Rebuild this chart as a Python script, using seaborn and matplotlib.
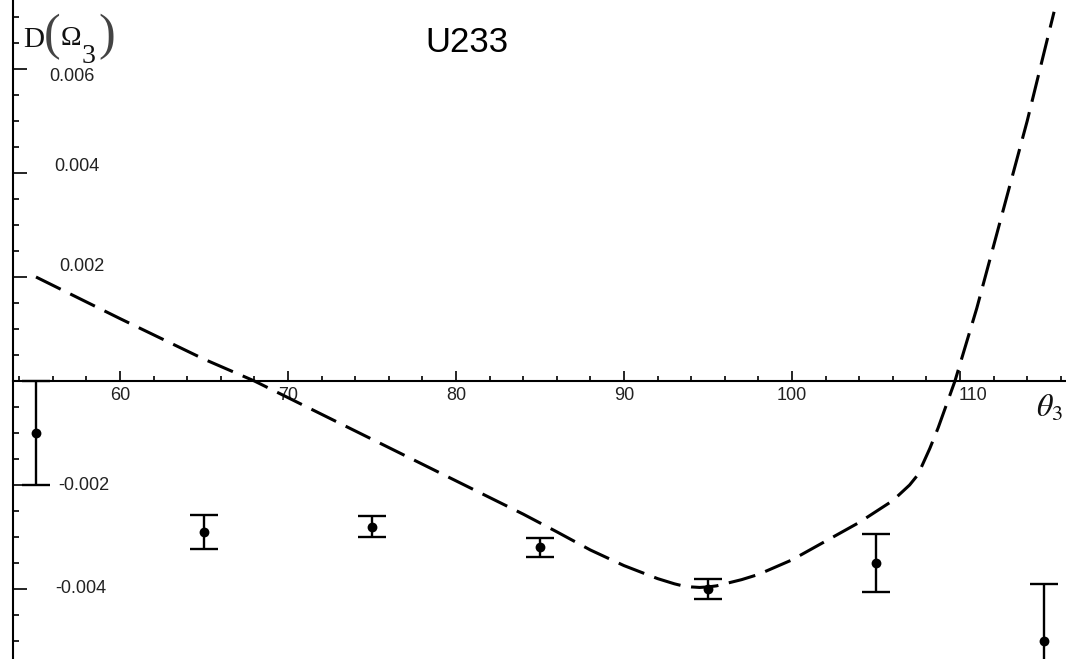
import matplotlib
matplotlib.use("Agg")
import matplotlib.pyplot as plt
from matplotlib.ticker import MultipleLocator, FixedLocator
from matplotlib.transforms import ScaledTranslation, blended_transform_factory
import seaborn as sns

# Measured D(Omega_3) for U233 with uncertainties
theta_obs = [55, 65, 75, 85, 95, 105, 115]
d_obs = [-0.0010, -0.0029, -0.0028, -0.0032, -0.0040, -0.0035, -0.0050]
d_err = [0.0010, 0.00033, 0.0002, 0.00018, 0.0002, 0.00055, 0.0011]

# Calculated curve
theta_calc = [55, 60, 65, 68, 72, 76, 80, 84, 86, 88, 90, 92, 93, 93.5, 94,
              94.5, 95, 95.5, 96, 97, 98, 100, 102, 104, 106, 107, 107.5,
              108.2, 108.7, 109.7, 111, 112, 113, 114, 115.6]
d_calc = [0.0020, 0.0012, 0.00042, -0.0000, -0.00064, -0.00128, -0.00192,
          -0.00256, -0.0029, -0.00325, -0.00355, -0.0038, -0.0039, -0.00394,
          -0.00396, -0.00397, -0.00396, -0.00394, -0.0039, -0.00382, -0.00372,
          -0.00344, -0.00308, -0.00272, -0.0023, -0.002, -0.0018, -0.0013,
          -0.0009, 0.0, 0.0014, 0.0026, 0.0038, 0.0050, 0.0071]

x_major = [60, 70, 80, 90, 100, 110]
y_label_values = [0.006, 0.004, 0.002, -0.002, -0.004]
y_label_texts = ["0.006", "0.004", "0.002", "-0.002", "-0.004"]

sns.set_theme(style="white")
plt.rcParams["font.family"] = ["Liberation Sans", "DejaVu Sans"]
plt.rcParams["mathtext.fontset"] = "stix"

fig = plt.figure(figsize=(10.66, 6.59), dpi=100)
ax = fig.add_axes([13 / 1066, 0, 1 - 13 / 1066, 1])
ax.set_xlim(53.63, 116.31)
ax.set_ylim(-0.005346, 0.007327)

# Dashed model curve
sns.lineplot(x=theta_calc, y=d_calc, ax=ax, color="black", linewidth=2.2,
             sort=False, estimator=None)
curve = ax.get_lines()[-1]
curve.set_dashes((9, 3.5))
curve.set_dash_capstyle("butt")
curve.set_solid_joinstyle("round")

# Observed points with error bars
ax.errorbar(theta_obs, d_obs, yerr=d_err, fmt="none", ecolor="black",
            elinewidth=1.7, capsize=10, capthick=1.7)
sns.scatterplot(x=theta_obs, y=d_obs, ax=ax, color="black", s=50,
                edgecolor="black", linewidth=0, zorder=5)

# Axes through the origin
for side in ("top", "right"):
    ax.spines[side].set_visible(False)
ax.spines["bottom"].set_position(("data", 0))
for side in ("left", "bottom"):
    ax.spines[side].set_color("black")
    ax.spines[side].set_linewidth(1.5)

ax.xaxis.set_major_locator(FixedLocator(x_major))
ax.xaxis.set_minor_locator(MultipleLocator(2))
ax.yaxis.set_major_locator(MultipleLocator(0.002))
ax.yaxis.set_minor_locator(MultipleLocator(0.0005))
ax.tick_params(axis="x", which="both", bottom=True, top=False)
ax.tick_params(axis="y", which="both", left=True, right=False)
ax.tick_params(axis="x", which="major", direction="in", length=7.5, width=1.2,
               color="black", labelsize=13, pad=4, labelcolor="#222222")
ax.tick_params(axis="x", which="minor", direction="in", length=3.8, width=1.2,
               color="black")
ax.tick_params(axis="y", which="major", direction="in", length=10, width=1.2,
               color="black", labelleft=False)
ax.tick_params(axis="y", which="minor", direction="in", length=4.5, width=1.2,
               color="black")
ax.set_xticklabels([str(v) for v in x_major])
for lbl in ax.get_xticklabels():
    if lbl.get_text() == "110":
        lbl.set_transform(lbl.get_transform()
                          + ScaledTranslation(0.13, 0, fig.dpi_scale_trans))

# Value labels sit inside the plot, right of the vertical axis
label_offsets = {0.006: (-6, -7), 0.004: (-1, 7), 0.002: (4, 11),
                 -0.002: (6, 0), -0.004: (3, 1)}
trans = blended_transform_factory(ax.transAxes, ax.transData)
for val, txt in zip(y_label_values, y_label_texts):
    dx, dy = label_offsets[val]
    t = trans + ScaledTranslation((65 + dx) / 100, dy / 100, fig.dpi_scale_trans)
    ax.text(0, val, txt, transform=t, ha="center", va="center", fontsize=13,
            color="#222222")

ax.set_xlabel("")
ax.set_ylabel("")

fig.text(467 / 1066, 1 - 52 / 659, "U233", ha="center", va="baseline",
         fontsize=25, color="black")

# Axis name D(Omega_3) with tall, thin parentheses
serif = ["Liberation Serif", "DejaVu Serif"]
H = 659
fig.text(23 / 1066, 1 - 47 / H, "D", ha="left", va="baseline",
         fontsize=21, family=serif, color="#111111")
fig.text(44 / 1066, 1 - 37 / H, "(", ha="left", va="center",
         fontsize=36, family=serif, color="#444444")
fig.text(61 / 1066, 1 - 45 / H, "\u03a9", ha="left", va="baseline",
         fontsize=20, family=serif, color="#111111")
fig.text(82 / 1066, 1 - 63 / H, "3", ha="left", va="baseline",
         fontsize=20, family=serif, color="#111111")
fig.text(98 / 1066, 1 - 37 / H, ")", ha="left", va="center",
         fontsize=36, family=serif, color="#444444")

fig.text(1036 / 1066, 1 - 409 / H, r"$\theta_{3}$", ha="left", va="center",
         fontsize=23, color="#111111")

fig.savefig("out.png", dpi=100, facecolor="white")
